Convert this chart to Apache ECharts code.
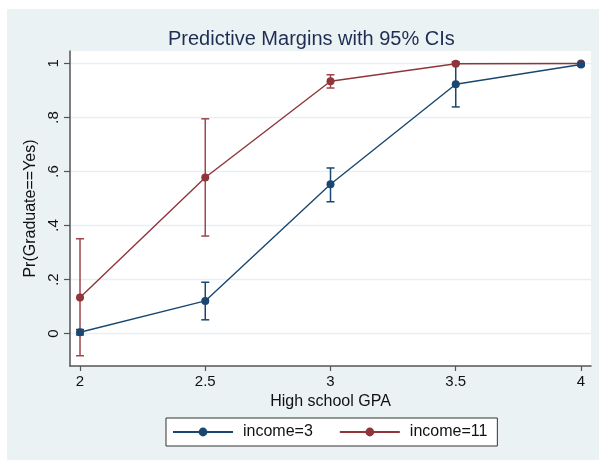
<!DOCTYPE html>
<html>
<head>
<meta charset="utf-8">
<script src="https://cdn.jsdelivr.net/npm/echarts@6/dist/echarts.min.js"></script>
<style>
  html, body { margin: 0; padding: 0; background: #ffffff; width: 599px; height: 460px; overflow: hidden; }
  #chart { position: absolute; left: 7px; top: 9px; width: 592px; height: 451px; background: #eaf2f3; }
</style>
</head>
<body>
<div id="chart"></div>
<script>
// ---- data ----
const gpa = [2, 2.5, 3, 3.5, 4];
const xTicks = [2, 2.5, 3, 3.5, 4];
const yTicks = [0, 0.2, 0.4, 0.6, 0.8, 1];
const yTickLabels = ['0', '.2', '.4', '.6', '.8', '1'];

const inc3 = [0.005, 0.121, 0.553, 0.923, 0.996];
const inc3Lo = [-0.005, 0.051, 0.488, 0.839, 0.991];
const inc3Hi = [0.015, 0.190, 0.613, 1.006, 1.001];

const inc11 = [0.134, 0.578, 0.934, 0.999, 1.0];
const inc11Lo = [-0.082, 0.361, 0.909, 0.997, 0.999];
const inc11Hi = [0.351, 0.795, 0.958, 1.001, 1.001];

const seriesNames = ['income=3', 'income=11'];
const colBlue = '#1a476f';
const colRed = '#90353b';
const colRedCI = '#a0464c';

const FONT = '"Liberation Sans", Arial, Helvetica, sans-serif';

function ciData(lo, hi) {
  return gpa.map((x, i) => [x, lo[i], hi[i]]);
}

function ciRender(color) {
  return function (params, api) {
    const x = api.value(0);
    const p1 = api.coord([x, api.value(1)]);
    const p2 = api.coord([x, api.value(2)]);
    const w = 4;
    const style = { stroke: color, lineWidth: 1.5, fill: null };
    return {
      type: 'group',
      children: [
        { type: 'line', shape: { x1: p1[0], y1: p1[1], x2: p2[0], y2: p2[1] }, style: style },
        { type: 'line', shape: { x1: p1[0] - w, y1: p1[1], x2: p1[0] + w, y2: p1[1] }, style: style },
        { type: 'line', shape: { x1: p2[0] - w, y1: p2[1], x2: p2[0] + w, y2: p2[1] }, style: style }
      ]
    };
  };
}

const chart = echarts.init(document.getElementById('chart'), null, { renderer: 'canvas' });

const option = {
  backgroundColor: '#eaf2f3',
  animation: false,
  textStyle: { fontFamily: FONT },
  title: {
    text: 'Predictive Margins with 95% CIs',
    left: 156,
    top: 15,
    textStyle: { color: '#1e2d53', fontSize: 20, fontWeight: 'normal', fontFamily: FONT }
  },
  grid: {
    left: 63, top: 42, width: 521, height: 315,
    show: true, backgroundColor: '#ffffff', borderWidth: 0
  },
  legend: {
    data: seriesNames,
    left: 159,
    top: 409,
    orient: 'horizontal',
    backgroundColor: '#ffffff',
    borderColor: '#333333',
    borderWidth: 1,
    borderRadius: 0,
    padding: [6, 10, 6, 6],
    itemGap: 26,
    itemWidth: 60,
    itemHeight: 11,
    textStyle: { color: '#111111', fontSize: 16, fontFamily: FONT, padding: [0, 0, 0, 5] }
  },
  xAxis: {
    type: 'value',
    min: 1.96,
    max: 4.04,
    name: 'High school GPA',
    nameLocation: 'middle',
    nameGap: 24,
    nameTextStyle: { color: '#111111', fontSize: 16, fontFamily: FONT },
    axisLine: { show: true, onZero: false, lineStyle: { color: '#555555', width: 1.5 } },
    axisTick: { show: true, length: 5, customValues: xTicks, lineStyle: { color: '#555555', width: 1.2 } },
    axisLabel: {
      customValues: xTicks,
      color: '#111111', fontSize: 15, fontFamily: FONT, margin: 8,
      formatter: v => String(v)
    },
    splitLine: { show: false }
  },
  yAxis: {
    type: 'value',
    min: -0.12,
    max: 1.046,
    name: 'Pr(Graduate==Yes)',
    nameLocation: 'middle',
    nameGap: 25,
    nameTextStyle: { color: '#111111', fontSize: 16, fontFamily: FONT },
    axisLine: { show: true, onZero: false, lineStyle: { color: '#555555', width: 1.5 } },
    axisTick: { show: true, length: 6, customValues: yTicks, lineStyle: { color: '#555555', width: 1.2 } },
    axisLabel: {
      customValues: yTicks,
      rotate: 90,
      color: '#111111', fontSize: 15, fontFamily: FONT, margin: 9,
      formatter: v => {
        const i = yTicks.findIndex(t => Math.abs(t - v) < 1e-9);
        return i >= 0 ? yTickLabels[i] : '';
      }
    },
    splitLine: { show: false }
  },
  series: [
    {
      name: 'gridlines',
      type: 'custom',
      silent: true,
      z: 0,
      data: yTicks.map(v => [v]),
      encode: { y: 0 },
      renderItem: function (params, api) {
        const cs = params.coordSys;
        const y = api.coord([0, api.value(0)])[1];
        return {
          type: 'line',
          shape: { x1: cs.x, y1: y, x2: cs.x + cs.width, y2: y },
          style: { stroke: '#e6eff1', lineWidth: 1.5 }
        };
      }
    },
    {
      name: 'ci11',
      type: 'custom',
      silent: true,
      z: 2,
      data: ciData(inc11Lo, inc11Hi),
      encode: { x: 0, y: [1, 2] },
      renderItem: ciRender(colRedCI)
    },
    {
      name: 'ci3',
      type: 'custom',
      silent: true,
      z: 2,
      data: ciData(inc3Lo, inc3Hi),
      encode: { x: 0, y: [1, 2] },
      renderItem: ciRender(colBlue)
    },
    {
      name: seriesNames[1],
      type: 'line',
      z: 3,
      data: gpa.map((x, i) => [x, inc11[i]]),
      symbol: 'circle',
      symbolSize: 8,
      itemStyle: { color: colRed },
      lineStyle: { color: colRed, width: 1.4 }
    },
    {
      name: seriesNames[0],
      type: 'line',
      z: 4,
      data: gpa.map((x, i) => [x, inc3[i]]),
      symbol: 'circle',
      symbolSize: 8,
      itemStyle: { color: colBlue },
      lineStyle: { color: colBlue, width: 1.4 }
    }
  ]
};

chart.setOption(option);
</script>
</body>
</html>
